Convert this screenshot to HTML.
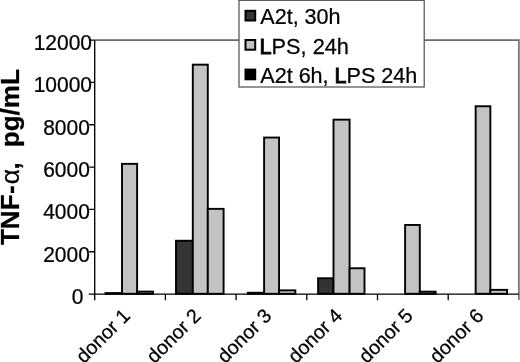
<!DOCTYPE html><html><head><meta charset="utf-8"><title>chart</title>
<style>html,body{margin:0;padding:0;background:#fff}svg{display:block;filter:blur(0.3px)}text{font-family:"Liberation Sans",Arial,sans-serif;fill:#000;stroke:#000;stroke-width:0.25px}</style></head><body>
<svg width="520" height="362" viewBox="0 0 520 362">
<rect width="520" height="362" fill="#fff"/>
<path d="M94.7 40.1H518.9V300.1" fill="none" stroke="#6a6a6a" stroke-width="1.6"/>
<rect x="105.50" y="293.05" width="16.50" height="0.75" fill="#333" stroke="#000" stroke-width="1.9"/>
<rect x="122.00" y="163.85" width="15.10" height="129.95" fill="#c3c3c3" stroke="#000" stroke-width="1.9"/>
<rect x="137.10" y="291.60" width="15.85" height="2.20" fill="#c3c3c3" stroke="#000" stroke-width="1.9"/>
<rect x="176.00" y="240.75" width="16.80" height="53.05" fill="#333" stroke="#000" stroke-width="1.9"/>
<rect x="192.80" y="64.65" width="15.00" height="229.15" fill="#c3c3c3" stroke="#000" stroke-width="1.9"/>
<rect x="207.80" y="208.85" width="15.80" height="84.95" fill="#c3c3c3" stroke="#000" stroke-width="1.9"/>
<rect x="247.85" y="292.75" width="16.25" height="1.05" fill="#333" stroke="#000" stroke-width="1.9"/>
<rect x="264.10" y="137.55" width="14.95" height="156.25" fill="#c3c3c3" stroke="#000" stroke-width="1.9"/>
<rect x="279.05" y="290.35" width="16.30" height="3.45" fill="#c3c3c3" stroke="#000" stroke-width="1.9"/>
<rect x="318.10" y="278.25" width="15.40" height="15.55" fill="#333" stroke="#000" stroke-width="1.9"/>
<rect x="333.50" y="119.65" width="16.10" height="174.15" fill="#c3c3c3" stroke="#000" stroke-width="1.9"/>
<rect x="349.60" y="268.25" width="14.90" height="25.55" fill="#c3c3c3" stroke="#000" stroke-width="1.9"/>
<rect x="405.10" y="224.95" width="14.70" height="68.85" fill="#c3c3c3" stroke="#000" stroke-width="1.9"/>
<rect x="419.80" y="291.65" width="15.85" height="2.15" fill="#c3c3c3" stroke="#000" stroke-width="1.9"/>
<rect x="475.65" y="106.25" width="14.70" height="187.55" fill="#c3c3c3" stroke="#000" stroke-width="1.9"/>
<rect x="490.35" y="289.85" width="16.75" height="3.95" fill="#c3c3c3" stroke="#000" stroke-width="1.9"/>
<path d="M94.7 40.1V300.3M88.7 294.1H518.9" fill="none" stroke="#000" stroke-width="1.35"/>
<path d="M89.2 251.77H94.7M89.2 209.43H94.7M89.2 167.10H94.7M89.2 124.77H94.7M89.2 82.43H94.7M89.2 40.10H94.7M165.40 294.1V300.3M236.10 294.1V300.3M306.80 294.1V300.3M377.50 294.1V300.3M448.20 294.1V300.3" fill="none" stroke="#000" stroke-width="1.3"/>
<text transform="translate(83.32 303.85) scale(0.972 1)" font-size="21.6" text-anchor="end">0</text>
<text transform="translate(89.82 261.52) scale(0.972 1)" font-size="21.6" text-anchor="end">2000</text>
<text transform="translate(89.82 219.18) scale(0.972 1)" font-size="21.6" text-anchor="end">4000</text>
<text transform="translate(89.82 176.85) scale(0.972 1)" font-size="21.6" text-anchor="end">6000</text>
<text transform="translate(89.82 134.52) scale(0.972 1)" font-size="21.6" text-anchor="end">8000</text>
<text transform="translate(92.02 92.18) scale(0.972 1)" font-size="21.6" text-anchor="end">10000</text>
<text transform="translate(92.02 49.85) scale(0.972 1)" font-size="21.6" text-anchor="end">12000</text>
<text transform="translate(131.35 316.90) rotate(-45)" font-size="19.8" text-anchor="end">donor 1</text>
<text transform="translate(202.05 316.90) rotate(-45)" font-size="19.8" text-anchor="end">donor 2</text>
<text transform="translate(272.75 316.90) rotate(-45)" font-size="19.8" text-anchor="end">donor 3</text>
<text transform="translate(343.45 316.90) rotate(-45)" font-size="19.8" text-anchor="end">donor 4</text>
<text transform="translate(414.15 316.90) rotate(-45)" font-size="19.8" text-anchor="end">donor 5</text>
<text transform="translate(484.85 316.90) rotate(-45)" font-size="19.8" text-anchor="end">donor 6</text>
<g font-weight="bold" font-size="25.6">
<text transform="translate(18.8 245.1) rotate(-90) scale(1.02 1)">TNF</text>
<text transform="translate(18.8 193.9) rotate(-90) scale(1.02 1)">-</text>
<text transform="translate(18.8 184.3) rotate(-90) scale(1.03 1)" font-size="25.5" font-weight="normal">α</text>
<text transform="translate(18.8 169.5) rotate(-90)">,</text>
<text transform="translate(18.8 147.3) rotate(-90) scale(1.02 1)">pg/mL</text>
</g>
<rect x="239.0" y="0.3" width="185.2" height="86.7" fill="#fff" stroke="#484848" stroke-width="1.15"/>
<rect x="245.5" y="10.80" width="9.7" height="9.7" fill="#333" stroke="#000" stroke-width="2"/>
<text transform="translate(260.3 23.9) scale(1.003 1)" font-size="21.5">A2t, 30h</text>
<rect x="245.5" y="40.00" width="9.7" height="9.7" fill="#c3c3c3" stroke="#000" stroke-width="2"/>
<text transform="translate(259.5 54.0) scale(1.012 1)" font-size="21.5"><tspan stroke-width="0.9">L</tspan>PS, 24h</text>
<rect x="245.5" y="69.60" width="9.7" height="9.7" fill="#000" stroke="#000" stroke-width="2"/>
<text transform="translate(260.3 82.6) scale(1.003 1)" font-size="21.5">A2t 6h, <tspan stroke-width="0.9">L</tspan>PS 24h</text>
</svg></body></html>
